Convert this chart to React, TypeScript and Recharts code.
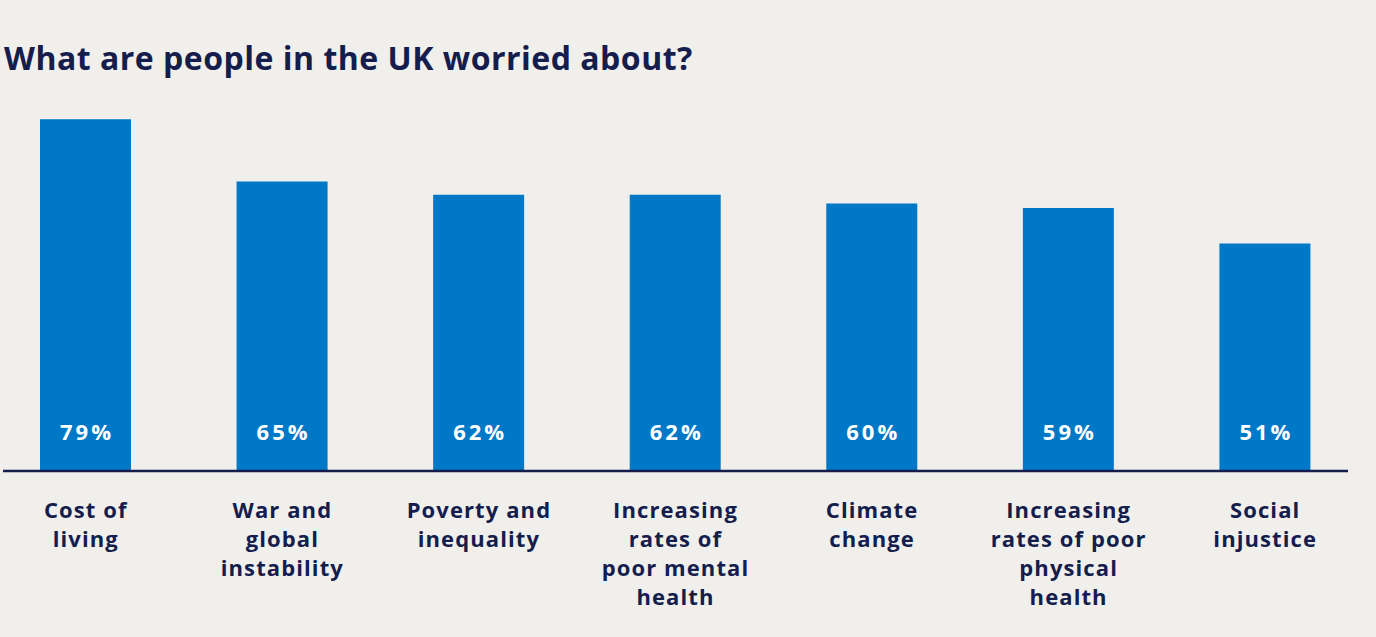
import React from "react";
import { BarChart, Bar, XAxis, YAxis, LabelList, ReferenceLine } from "recharts";

const categories = [
  "Cost of\nliving",
  "War and\nglobal\ninstability",
  "Poverty and\ninequality",
  "Increasing\nrates of\npoor mental\nhealth",
  "Climate\nchange",
  "Increasing\nrates of poor\nphysical\nhealth",
  "Social\ninjustice",
];
const values = [79, 65, 62, 62, 60, 59, 51];

const data = categories.map((c, i) => ({ cat: c, value: values[i] }));

const NAVY = "#141d4c";
const BLUE = "#0078c8";
const BG = "#f0efec";
const FONT = "'Open Sans', 'Noto Sans', sans-serif";

const Tick = (props: any) => {
  const { x, payload } = props;
  const lines = String(payload.value).split("\n");
  return (
    <text x={x} y={518} textAnchor="middle" fill={NAVY} fontFamily={FONT} fontWeight={700} fontSize={22} letterSpacing={1.1}>
      {lines.map((l, i) => (
        <tspan key={i} x={x + 0.5} y={518 + i * 29}>
          {l}
        </tspan>
      ))}
    </text>
  );
};

const ValueLabel = (props: any) => {
  const { x, y, width, height, value } = props;
  const bottom = y + height;
  return (
    <text x={x + width / 2 + 1.5} y={bottom - 30} textAnchor="middle" fill="#ffffff" fontFamily={FONT} fontWeight={700} fontSize={22} letterSpacing={3}>
      {value}%
    </text>
  );
};

export default function App() {
  return (
    <div style={{ position: "absolute", left: 0, top: 0, width: 1376, height: 637, background: BG, overflow: "hidden" }}>
      <div
        style={{
          position: "absolute",
          left: 4,
          top: 37,
          fontFamily: FONT,
          fontWeight: 700,
          fontSize: 32,
          letterSpacing: 0.5,
          color: NAVY,
          lineHeight: "42px",
          whiteSpace: "nowrap",
        }}
      >
        What are people in the UK worried about?
      </div>
      <div style={{ position: "absolute", left: -13, top: 0 }}>
        <BarChart width={1376} height={637} data={data} margin={{ top: 26, right: 0, left: 0, bottom: 0 }}>
          <YAxis hide domain={[0, 100]} />
          <XAxis dataKey="cat" axisLine={false} tickLine={false} interval={0} height={167} tick={<Tick />} />
          <Bar dataKey="value" fill={BLUE} barSize={91} isAnimationActive={false}>
            <LabelList dataKey="value" content={<ValueLabel />} />
          </Bar>
          <ReferenceLine
            y={0}
            shape={(p: any) => <line x1={16} x2={1361} y1={p.y1 + 1} y2={p.y2 + 1} stroke={NAVY} strokeWidth={2.5} />}
          />
        </BarChart>
      </div>
    </div>
  );
}
